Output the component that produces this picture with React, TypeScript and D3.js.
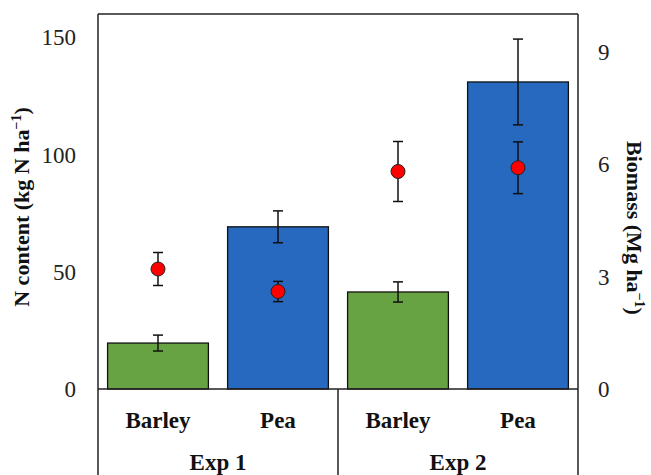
import React from 'react';
import * as d3 from 'd3';

// categories and values
const experiments = ['Exp 1', 'Exp 2'];
const crops = ['Barley', 'Pea'];
const nContent = [19.6, 69.2, 41.4, 131];      // kg N / ha, bars
const nError = [3.4, 6.8, 4.3, 18.3];
const biomass = [3.2, 2.6, 5.8, 5.9];          // Mg / ha, dots
const biomassError = [0.44, 0.27, 0.8, 0.69];
const leftTicks = [0, 50, 100, 150];
const rightTicks = [0, 3, 6, 9];

const W = 651;
const H = 475;
const margin = { top: 14, right: 73, bottom: 86, left: 98 };
const font = '"Liberation Serif", "Times New Roman", serif';

export default function App() {
  const x0 = margin.left;
  const x1 = W - margin.right;
  const yBase = H - margin.bottom;

  const keys = experiments.flatMap((e) => crops.map((c) => `${e}|${c}`));
  const x = d3.scaleBand<string>()
    .domain(keys)
    .range([x0, x1])
    .paddingInner(0.16)
    .paddingOuter(0.08);
  const yL = d3.scaleLinear().domain([0, 160]).range([yBase, margin.top]);
  const yR = d3.scaleLinear().domain([0, 10]).range([yBase, margin.top]);

  const colors = ['#68a343', '#2669bf'];
  const cap = 5;
  const step = x.step();

  return (
    <svg width={W} height={H} style={{ position: 'absolute', left: 0, top: 0 }} fontFamily={font}>
      <rect x={0} y={0} width={W} height={H} fill="#fff" />

      {/* bars */}
      {keys.map((k, i) => (
        <rect key={k} x={x(k)} y={yL(nContent[i])} width={x.bandwidth()}
          height={yBase - yL(nContent[i])} fill={colors[i % 2]} stroke="#111" strokeWidth={1.3} />
      ))}

      {/* bar error bars */}
      {keys.map((k, i) => {
        const cx = (x(k) ?? 0) + x.bandwidth() / 2;
        const hi = yL(nContent[i] + nError[i]);
        const lo = yL(nContent[i] - nError[i]);
        return (
          <g key={'e' + k} stroke="#111" strokeWidth={1.5}>
            <line x1={cx} x2={cx} y1={hi} y2={lo} />
            <line x1={cx - cap} x2={cx + cap} y1={hi} y2={hi} />
            <line x1={cx - cap} x2={cx + cap} y1={lo} y2={lo} />
          </g>
        );
      })}

      {/* biomass points */}
      {keys.map((k, i) => {
        const cx = (x(k) ?? 0) + x.bandwidth() / 2;
        const hi = yR(biomass[i] + biomassError[i]);
        const lo = yR(biomass[i] - biomassError[i]);
        return (
          <g key={'p' + k}>
            <g stroke="#111" strokeWidth={1.5}>
              <line x1={cx} x2={cx} y1={hi} y2={lo} />
              <line x1={cx - cap} x2={cx + cap} y1={hi} y2={hi} />
              <line x1={cx - cap} x2={cx + cap} y1={lo} y2={lo} />
            </g>
            <circle cx={cx} cy={yR(biomass[i])} r={7} fill="#ff0000" stroke="#222" strokeWidth={1} />
          </g>
        );
      })}

      {/* frame */}
      <g stroke="#222" strokeWidth={1.5} fill="none">
        <line x1={x0} x2={x1} y1={margin.top} y2={margin.top} />
        <line x1={x0} x2={x0} y1={margin.top} y2={H} />
        <line x1={x1} x2={x1} y1={margin.top} y2={H} />
        <line x1={x0} x2={x1} y1={yBase} y2={yBase} />
        <line x1={x0 + 2 * step} x2={x0 + 2 * step} y1={yBase} y2={H} />
      </g>

      {/* axis tick labels */}
      {leftTicks.map((t) => (
        <text key={'l' + t} x={x0 - 22} y={yL(t)} dy="0.35em" textAnchor="end" fontSize={23} fill="#222">{t}</text>
      ))}
      {rightTicks.map((t) => (
        <text key={'r' + t} x={x1 + 20} y={yR(t)} dy="0.35em" textAnchor="start" fontSize={23} fill="#222">{t}</text>
      ))}

      {/* category labels */}
      {keys.map((k, i) => (
        <text key={'c' + k} x={(x(k) ?? 0) + x.bandwidth() / 2} y={420} dy="0.35em" textAnchor="middle"
          fontSize={23} fontWeight="bold" fill="#111">{crops[i % 2]}</text>
      ))}
      {experiments.map((e, i) => (
        <text key={e} x={x0 + step * (2 * i + 1)} y={462} dy="0.35em" textAnchor="middle"
          fontSize={23} fontWeight="bold" fill="#111">{e}</text>
      ))}

      {/* axis titles */}
      <text transform="translate(29,207) rotate(-90)" textAnchor="middle"
        fontSize={22} fontWeight="bold" fill="#111">
        N content (kg N ha<tspan dy={-8} fontSize={14}>−1</tspan><tspan dy={8}>)</tspan>
      </text>
      <text transform="translate(627,228) rotate(90)" textAnchor="middle"
        fontSize={22} fontWeight="bold" fill="#111">
        Biomass (Mg ha<tspan dy={-8} fontSize={14}>−1</tspan><tspan dy={8}>)</tspan>
      </text>
    </svg>
  );
}
